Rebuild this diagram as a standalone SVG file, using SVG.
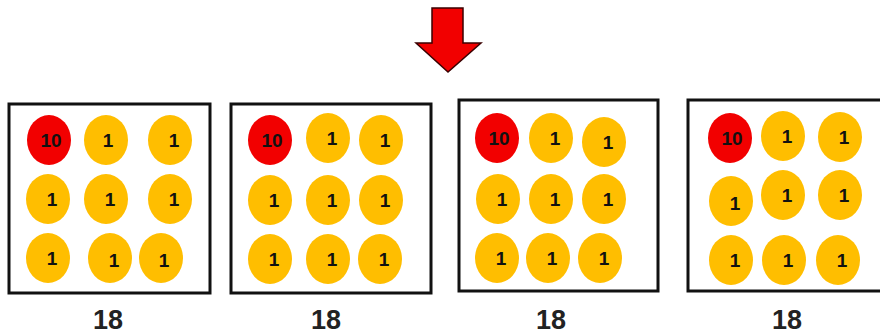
<svg xmlns="http://www.w3.org/2000/svg" width="880" height="336" viewBox="0 0 880 336">
<style>
.box{fill:#fff;stroke:#111;stroke-width:3}
.y{fill:#FFBE00}
.r{fill:#F20000}
.n{font-family:"Liberation Sans",Arial,sans-serif;font-weight:bold;font-size:19px;fill:#111;text-anchor:middle}
.lab{font-family:"Liberation Sans",Arial,sans-serif;font-weight:bold;font-size:27px;fill:#222;text-anchor:middle}
</style>
<defs>
<ellipse id="c" cx="0" cy="0" rx="22" ry="25"/>
</defs>
<rect width="880" height="336" fill="#fff"/>
<g id="arrow">
<polygon points="432,8 463,8 463,43 481,43 448,72 416,43 432,43" fill="#F20000" stroke="#3a0000" stroke-width="1.5" stroke-linejoin="miter"/>
</g>
<g id="box1">
<rect class="box" x="9" y="104" width="201" height="189"/>
<use href="#c" class="r" x="49" y="140"/><text class="n" x="51" y="147">10</text>
<use href="#c" class="y" x="106" y="140"/><text class="n" x="108" y="147">1</text>
<use href="#c" class="y" x="170" y="140"/><text class="n" x="174" y="147">1</text>
<use href="#c" class="y" x="48" y="199"/><text class="n" x="52" y="206">1</text>
<use href="#c" class="y" x="106" y="199"/><text class="n" x="110" y="206">1</text>
<use href="#c" class="y" x="170" y="199"/><text class="n" x="174" y="206">1</text>
<use href="#c" class="y" x="48" y="258"/><text class="n" x="52" y="265">1</text>
<use href="#c" class="y" x="110" y="258"/><text class="n" x="114" y="267">1</text>
<use href="#c" class="y" x="161" y="258"/><text class="n" x="164" y="267">1</text>
<text class="lab" x="108" y="329">18</text>
</g>
<g id="box2">
<rect class="box" x="231" y="104" width="200" height="189"/>
<use href="#c" class="r" x="270" y="140"/><text class="n" x="272" y="147">10</text>
<use href="#c" class="y" x="328" y="138"/><text class="n" x="332" y="145">1</text>
<use href="#c" class="y" x="381" y="140"/><text class="n" x="385" y="147">1</text>
<use href="#c" class="y" x="270" y="200"/><text class="n" x="274" y="207">1</text>
<use href="#c" class="y" x="328" y="200"/><text class="n" x="332" y="207">1</text>
<use href="#c" class="y" x="381" y="200"/><text class="n" x="385" y="207">1</text>
<use href="#c" class="y" x="270" y="259"/><text class="n" x="274" y="266">1</text>
<use href="#c" class="y" x="328" y="259"/><text class="n" x="332" y="266">1</text>
<use href="#c" class="y" x="380" y="259"/><text class="n" x="384" y="266">1</text>
<text class="lab" x="326" y="329">18</text>
</g>
<g id="box3">
<rect class="box" x="459" y="100" width="199" height="191"/>
<use href="#c" class="r" x="497" y="138"/><text class="n" x="499" y="145">10</text>
<use href="#c" class="y" x="551" y="138"/><text class="n" x="555" y="145">1</text>
<use href="#c" class="y" x="604" y="142"/><text class="n" x="608" y="149">1</text>
<use href="#c" class="y" x="498" y="199"/><text class="n" x="502" y="206">1</text>
<use href="#c" class="y" x="551" y="199"/><text class="n" x="555" y="206">1</text>
<use href="#c" class="y" x="604" y="199"/><text class="n" x="608" y="206">1</text>
<use href="#c" class="y" x="497" y="258"/><text class="n" x="501" y="265">1</text>
<use href="#c" class="y" x="548" y="258"/><text class="n" x="552" y="265">1</text>
<use href="#c" class="y" x="600" y="258"/><text class="n" x="604" y="265">1</text>
<text class="lab" x="551" y="329">18</text>
</g>
<g id="box4">
<rect class="box" x="688" y="100" width="200" height="191"/>
<use href="#c" class="r" x="730" y="138"/><text class="n" x="732" y="145">10</text>
<use href="#c" class="y" x="783" y="136"/><text class="n" x="787" y="143">1</text>
<use href="#c" class="y" x="840" y="137"/><text class="n" x="844" y="144">1</text>
<use href="#c" class="y" x="731" y="201"/><text class="n" x="735" y="210">1</text>
<use href="#c" class="y" x="783" y="195"/><text class="n" x="787" y="202">1</text>
<use href="#c" class="y" x="840" y="195"/><text class="n" x="844" y="202">1</text>
<use href="#c" class="y" x="731" y="260"/><text class="n" x="735" y="267">1</text>
<use href="#c" class="y" x="784" y="260"/><text class="n" x="788" y="267">1</text>
<use href="#c" class="y" x="838" y="260"/><text class="n" x="842" y="267">1</text>
<text class="lab" x="787" y="329">18</text>
</g>
<g id="connectors"></g>
</svg>
